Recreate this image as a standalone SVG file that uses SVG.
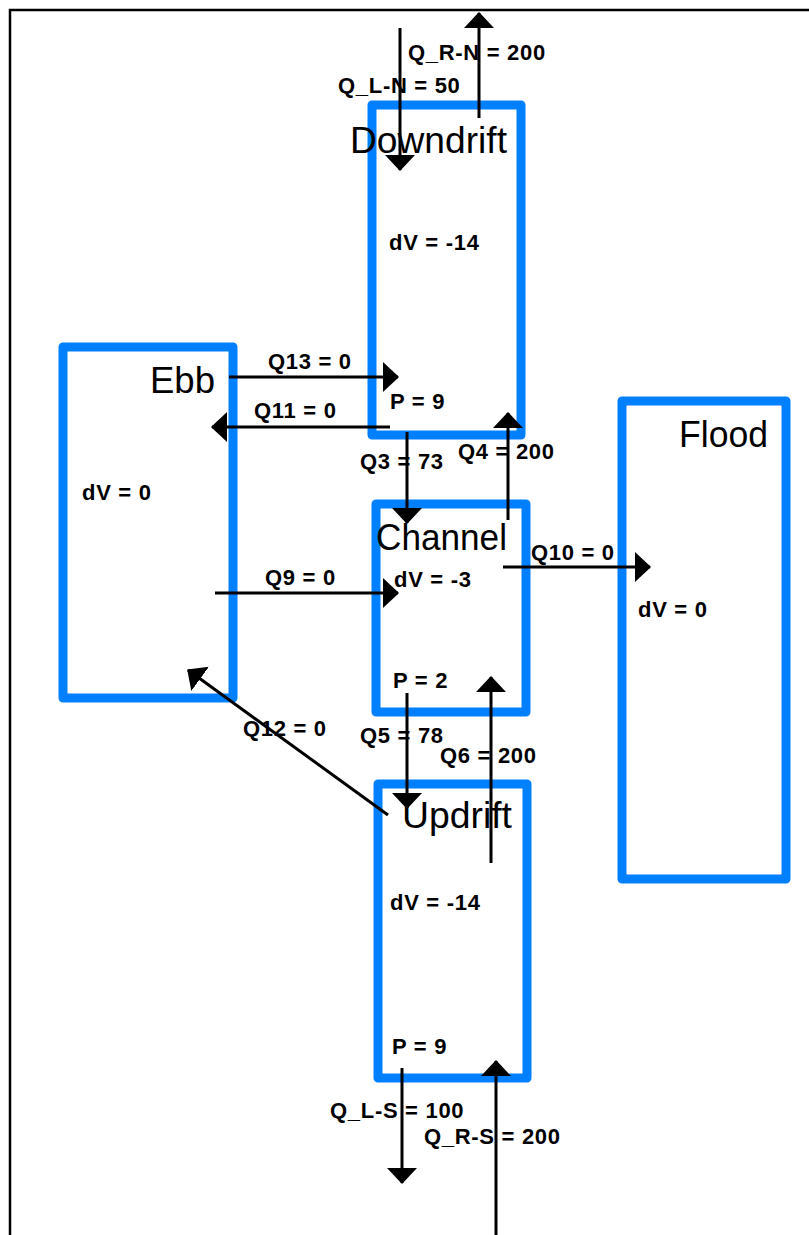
<svg xmlns="http://www.w3.org/2000/svg" width="809" height="1235" viewBox="0 0 809 1235">
<style>
.box{fill:none;stroke:#0080ff;stroke-width:9;stroke-linejoin:round}
.title{font-family:"Liberation Sans",Arial,sans-serif;font-size:36px;fill:#000}
.lbl{font-family:"Liberation Sans",Arial,sans-serif;font-size:22px;font-weight:bold;letter-spacing:0.7px;fill:#000}
.con{stroke:#000;stroke-width:3;fill:none}
.frame{stroke:#000;stroke-width:2.5;fill:none}
</style>
<defs>
<marker id="ah" viewBox="0 0 16 30" refX="15" refY="15" markerWidth="16" markerHeight="30" markerUnits="userSpaceOnUse" orient="auto">
<path d="M0,0 L16,15 L0,30 Z" fill="#000"/>
</marker>
</defs>
<path class="frame" d="M10,1235 L10,10 L809,10"/>

<g id="downdrift">
<rect class="box" x="372" y="105" width="149" height="330"/>
<text class="title" x="350" y="153" textLength="157" lengthAdjust="spacingAndGlyphs">Downdrift</text>
<text class="lbl" x="389" y="250">dV = -14</text>
<text class="lbl" x="390" y="409">P = 9</text>
</g>
<g id="ebb">
<rect class="box" x="63" y="347" width="170" height="351"/>
<text class="title" x="150" y="393" textLength="65" lengthAdjust="spacingAndGlyphs">Ebb</text>
<text class="lbl" x="82" y="500">dV = 0</text>
</g>
<g id="channel">
<rect class="box" x="376" y="504" width="150" height="208"/>
<text class="title" x="376" y="550" textLength="131" lengthAdjust="spacingAndGlyphs">Channel</text>
<text class="lbl" x="394" y="587">dV = -3</text>
<text class="lbl" x="393" y="688">P = 2</text>
</g>
<g id="flood">
<rect class="box" x="622" y="401" width="164" height="478"/>
<text class="title" x="679" y="447" textLength="89" lengthAdjust="spacingAndGlyphs">Flood</text>
<text class="lbl" x="638" y="617">dV = 0</text>
</g>
<g id="updrift">
<rect class="box" x="378" y="784" width="149" height="294"/>
<text class="title" x="402" y="828" textLength="110" lengthAdjust="spacingAndGlyphs">Updrift</text>
<text class="lbl" x="390" y="910">dV = -14</text>
<text class="lbl" x="392" y="1054">P = 9</text>
</g>

<g id="connectors">
<line class="con" x1="400" y1="28" x2="400" y2="170" marker-end="url(#ah)"/>
<line class="con" x1="479" y1="118" x2="479" y2="13" marker-end="url(#ah)"/>
<line class="con" x1="229" y1="377" x2="398" y2="377" marker-end="url(#ah)"/>
<line class="con" x1="390" y1="427" x2="212" y2="427" marker-end="url(#ah)"/>
<line class="con" x1="407" y1="432" x2="407" y2="523" marker-end="url(#ah)"/>
<line class="con" x1="508" y1="520" x2="508" y2="413" marker-end="url(#ah)"/>
<line class="con" x1="503" y1="567" x2="650" y2="567" marker-end="url(#ah)"/>
<line class="con" x1="215" y1="593" x2="398" y2="593" marker-end="url(#ah)"/>
<line class="con" x1="388" y1="815" x2="188" y2="670" marker-end="url(#ah)"/>
<line class="con" x1="407" y1="693" x2="407" y2="808" marker-end="url(#ah)"/>
<line class="con" x1="491" y1="863" x2="491" y2="677" marker-end="url(#ah)"/>
<line class="con" x1="402" y1="1068" x2="402" y2="1183" marker-end="url(#ah)"/>
<line class="con" x1="496" y1="1235" x2="496" y2="1061" marker-end="url(#ah)"/>
<text class="lbl" x="408" y="60">Q_R-N = 200</text>
<text class="lbl" x="338" y="93">Q_L-N = 50</text>
<text class="lbl" x="268" y="369">Q13 = 0</text>
<text class="lbl" x="254" y="418">Q11 = 0</text>
<text class="lbl" x="360" y="469">Q3 = 73</text>
<text class="lbl" x="458" y="459">Q4 = 200</text>
<text class="lbl" x="531" y="560">Q10 = 0</text>
<text class="lbl" x="265" y="585">Q9 = 0</text>
<text class="lbl" x="243" y="736">Q12 = 0</text>
<text class="lbl" x="360" y="743">Q5 = 78</text>
<text class="lbl" x="440" y="763">Q6 = 200</text>
<text class="lbl" x="330" y="1118">Q_L-S = 100</text>
<text class="lbl" x="424" y="1144">Q_R-S = 200</text>
</g>
</svg>
